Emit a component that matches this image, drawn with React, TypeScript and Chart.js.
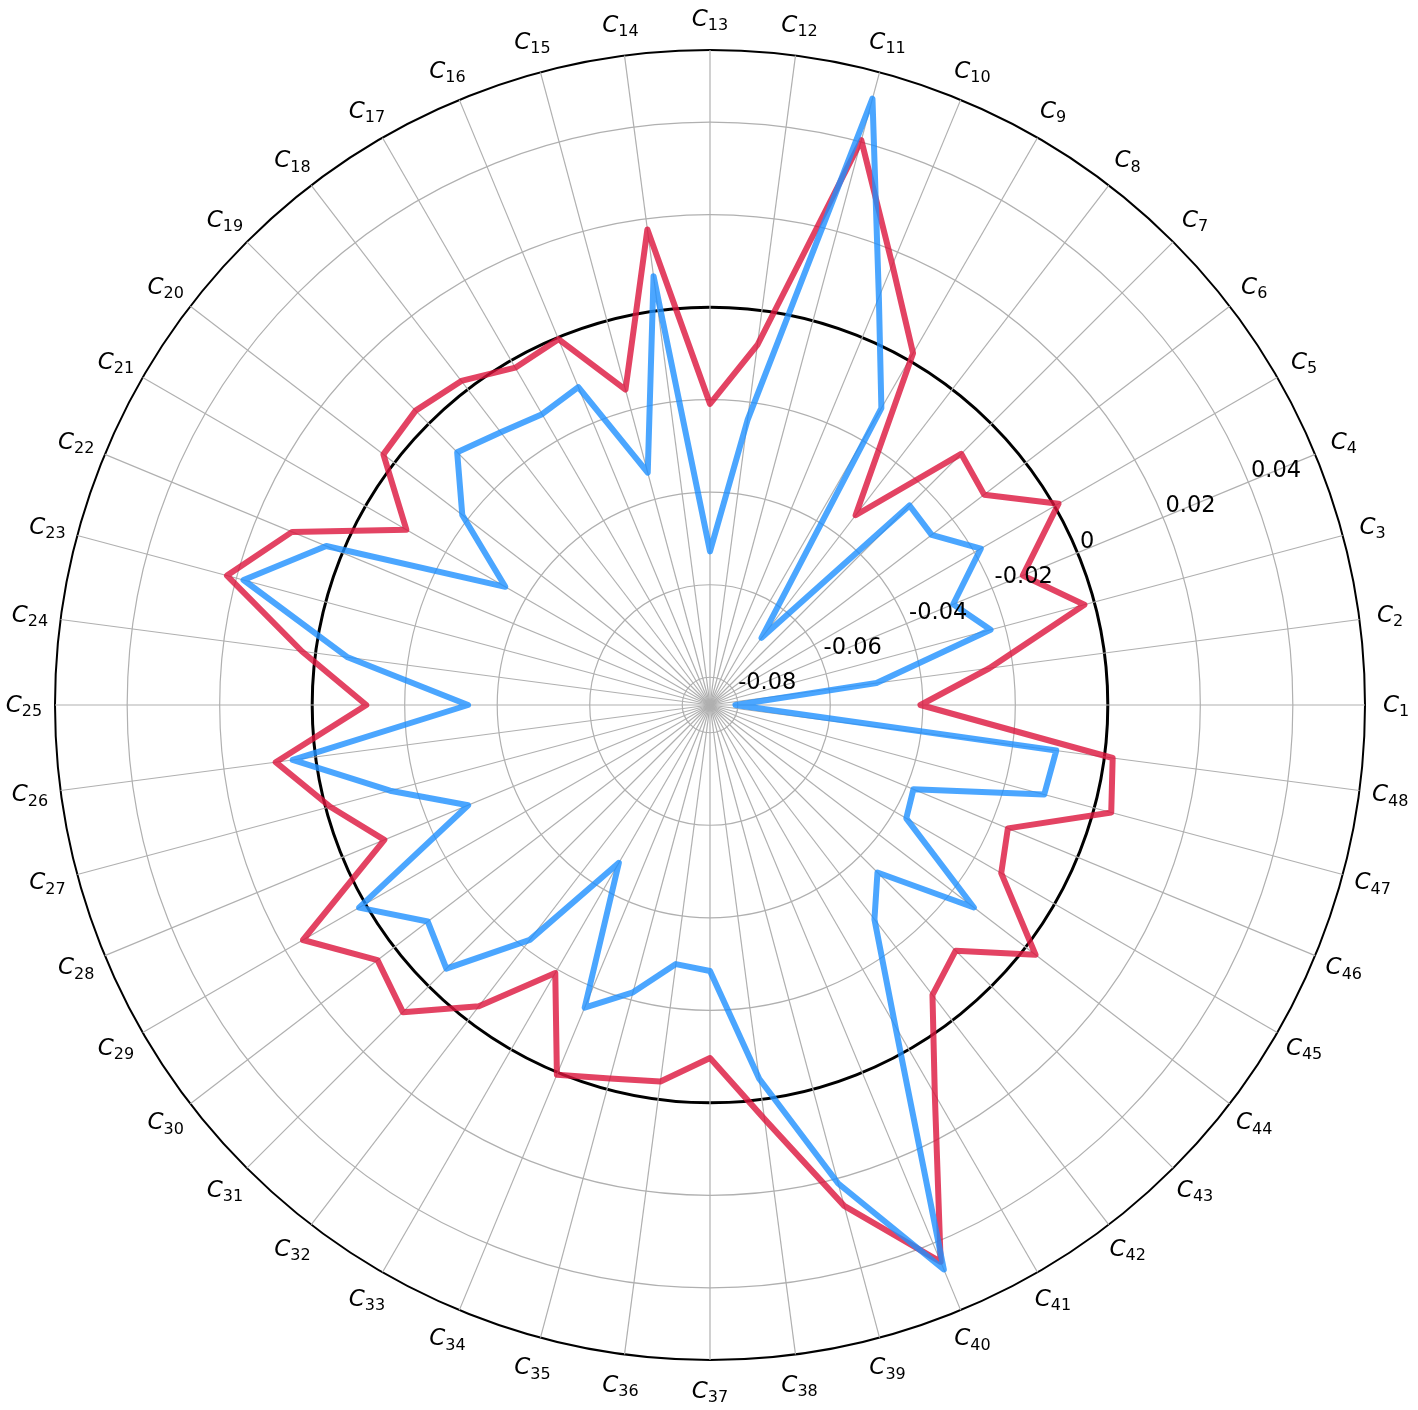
import { useEffect, useRef } from 'react';
import { Chart, registerables } from 'chart.js';

Chart.register(...registerables);

const categories = [
  'C1', 'C2', 'C3', 'C4', 'C5', 'C6', 'C7', 'C8', 'C9', 'C10', 'C11', 'C12',
  'C13', 'C14', 'C15', 'C16', 'C17', 'C18', 'C19', 'C20', 'C21', 'C22', 'C23', 'C24',
  'C25', 'C26', 'C27', 'C28', 'C29', 'C30', 'C31', 'C32', 'C33', 'C34', 'C35', 'C36',
  'C37', 'C38', 'C39', 'C40', 'C41', 'C42', 'C43', 'C44', 'C45', 'C46', 'C47', 'C48',
];

const redValues = [
  -0.0405, -0.0251, -0.0022, -0.0128, 0.0010, -0.0113, -0.0092, -0.0343,
  0.0018, 0.0170, 0.0404, -0.0075, -0.0209, 0.0177, -0.0154, -0.0004,
  -0.0018, 0.0023, 0.0040, 0.0030, -0.0102, 0.0118, 0.0221, 0.0030,
  -0.0117, 0.0087, -0.0010, -0.0098, 0.0156, 0.0046, 0.0079, -0.0039,
  -0.0191, 0.0005, -0.0024, -0.0039, -0.0097, 0.0043, 0.0261, 0.0443,
  0.0112, -0.0070, -0.0109, 0.0027, -0.0133, -0.0163, 0.0038, 0.0018,
];

const blueValues = [
  -0.0805, -0.0497, -0.0232, -0.0291, -0.0184, -0.0256, -0.0250, -0.0677,
  -0.0119, 0.0094, 0.0497, -0.0239, -0.0528, 0.0075, -0.0340, -0.0116,
  -0.0134, -0.0117, -0.0087, -0.0185, -0.0349, 0.0038, 0.0184, -0.0070,
  -0.0337, 0.0050, -0.0144, -0.0294, 0.0016, -0.0091, -0.0054, -0.0220,
  -0.0466, -0.0152, -0.0217, -0.0295, -0.0285, -0.0045, 0.0211, 0.0461,
  -0.0059, -0.0276, -0.0348, -0.0141, -0.0370, -0.0384, -0.0112, -0.0105,
];

const tickValues = [-0.08, -0.06, -0.04, -0.02, 0, 0.02, 0.04];
const tickLabels = ['-0.08', '-0.06', '-0.04', '-0.02', '0', '0.02', '0.04'];

const R_MIN = -0.086;
const R_MAX = 0.0556;
const TICK_LABEL_ANGLE_DEG = 22.5;

// Chart.js goes clockwise; the reference goes counter-clockwise starting at east.
const order = categories.map((_, i) => (categories.length - i) % categories.length);

const tickLabelPlugin = {
  id: 'radialTickLabels',
  afterDatasetsDraw(chart: any) {
    const scale = chart.scales.r;
    const ctx = chart.ctx;
    const ang = (TICK_LABEL_ANGLE_DEG * Math.PI) / 180;
    ctx.save();
    ctx.font = '22.5px "DejaVu Sans"';
    ctx.fillStyle = '#000';
    ctx.textAlign = 'left';
    ctx.textBaseline = 'alphabetic';
    tickValues.forEach((v, i) => {
      const d = scale.getDistanceFromCenterForValue(v);
      const x = scale.xCenter + d * Math.cos(ang);
      const y = scale.yCenter - d * Math.sin(ang);
      ctx.fillText(tickLabels[i], x + 2.5, y - 5);
    });
    ctx.restore();
  },
};

const pointLabelPlugin = {
  id: 'subscriptPointLabels',
  afterDraw(chart: any) {
    const scale = chart.scales.r;
    const ctx = chart.ctx;
    const labels: string[] = chart.data.labels;
    ctx.save();
    ctx.fillStyle = '#000';
    ctx.textAlign = 'left';
    ctx.textBaseline = 'alphabetic';
    labels.forEach((lab, i) => {
      const pos = scale.getPointPosition(i, scale.drawingArea + 31);
      const base = lab.slice(0, 1);
      const sub = lab.slice(1);
      ctx.font = 'italic 23px "DejaVu Sans"';
      const wB = ctx.measureText(base).width;
      ctx.font = '16px "DejaVu Sans"';
      const wS = ctx.measureText(sub).width;
      const total = wB + wS;
      const x0 = pos.x - total / 2;
      ctx.font = 'italic 23px "DejaVu Sans"';
      ctx.fillText(base, x0, pos.y + 6.7);
      ctx.font = '16px "DejaVu Sans"';
      ctx.fillText(sub, x0 + wB, pos.y + 11);
    });
    ctx.restore();
  },
};

export default function App() {
  const canvasRef = useRef<HTMLCanvasElement | null>(null);

  useEffect(() => {
    const canvas = canvasRef.current;
    if (!canvas) return;
    const chart = new Chart(canvas, {
      type: 'radar',
      data: {
        labels: order.map((i) => categories[i]),
        datasets: [
          {
            label: 'Series B',
            data: order.map((i) => blueValues[i]),
            borderColor: 'rgba(30,144,255,0.8)',
            backgroundColor: 'rgba(0,0,0,0)',
            borderWidth: 6,
            pointRadius: 0,
            pointHoverRadius: 0,
            fill: false,
            tension: 0,
            borderJoinStyle: 'round',
            borderCapStyle: 'round',
          },
          {
            label: 'Series A',
            data: order.map((i) => redValues[i]),
            borderColor: 'rgba(220,20,60,0.8)',
            backgroundColor: 'rgba(0,0,0,0)',
            borderWidth: 6,
            pointRadius: 0,
            pointHoverRadius: 0,
            fill: false,
            tension: 0,
            borderJoinStyle: 'round',
            borderCapStyle: 'round',
          },
        ],
      },
      options: {
        responsive: false,
        animation: false,
        layout: { padding: { left: 55, right: 53, top: 50, bottom: 50 } },
        plugins: {
          legend: { display: false },
          tooltip: { enabled: false },
        },
        scales: {
          r: {
            min: R_MIN,
            max: R_MAX,
            startAngle: 90,
            afterBuildTicks: (scale: any) => {
              scale.ticks = [R_MIN, ...tickValues, R_MAX].map((v) => ({ value: v }));
            },
            ticks: { display: false },
            pointLabels: { display: false },
            grid: {
              circular: true,
              color: (c: any) => {
                const v = c.tick ? c.tick.value : null;
                if (v === R_MIN) return 'rgba(0,0,0,0)';
                if (v === 0 || v === R_MAX) return '#000000';
                return '#b0b0b0';
              },
              lineWidth: (c: any) => {
                const v = c.tick ? c.tick.value : null;
                if (v === 0) return 3;
                if (v === R_MAX) return 2;
                return 1.2;
              },
            },
            angleLines: { display: true, color: '#b0b0b0', lineWidth: 1.2 },
          },
        },
      } as any,
      plugins: [tickLabelPlugin, pointLabelPlugin],
    });
    return () => chart.destroy();
  }, []);

  return (
    <div style={{ position: 'absolute', left: 0, top: 0, width: 1418, height: 1410, background: '#fff' }}>
      <canvas ref={canvasRef} width={1418} height={1410} style={{ display: 'block' }} />
    </div>
  );
}
